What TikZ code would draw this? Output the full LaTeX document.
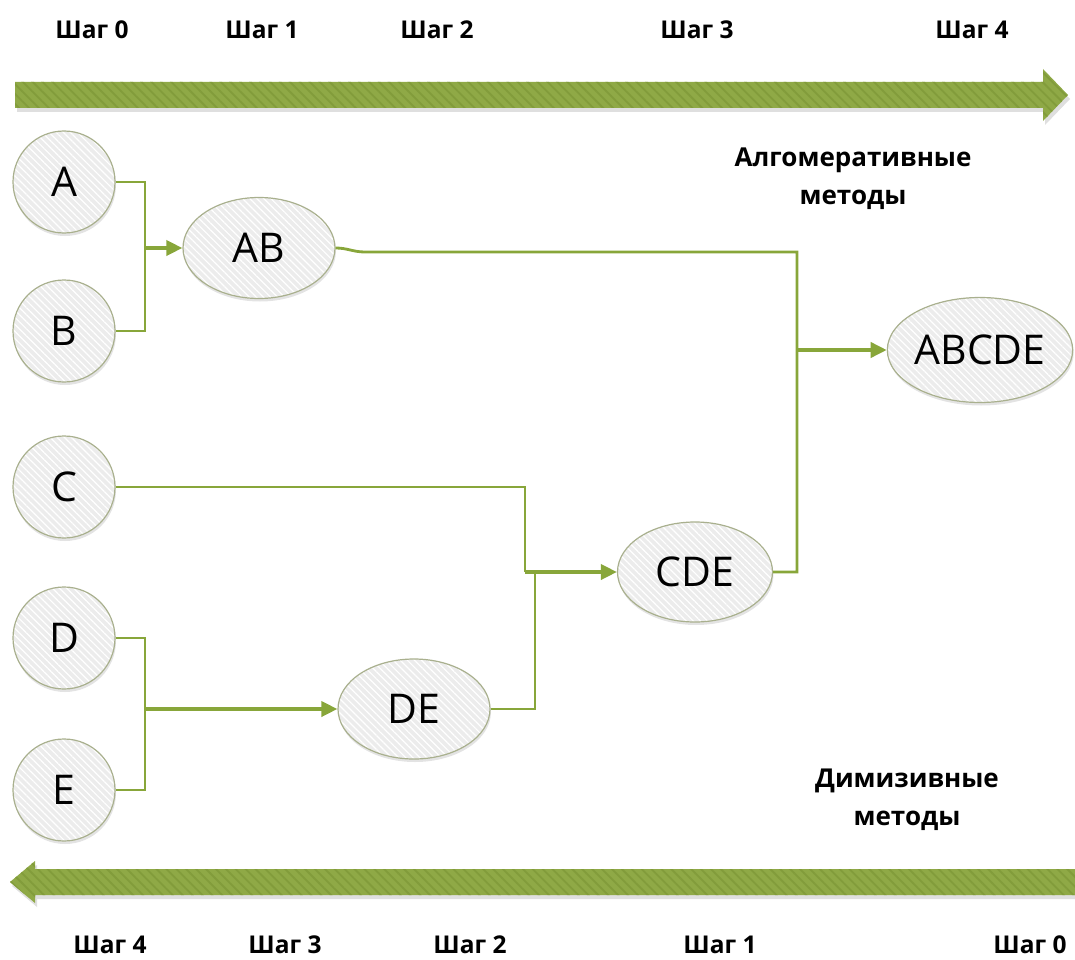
\documentclass[tikz,border=0pt]{standalone}
\usepackage{fontspec}
\setmainfont{Open Sans}
\newfontfamily\labelfont{Open Sans}
\usetikzlibrary{shapes.geometric,arrows.meta,patterns.meta,shadows}

\definecolor{bandgreen}{HTML}{8FA946}
\definecolor{bandstripe}{HTML}{829C3B}
\definecolor{linkgreen}{HTML}{88A63A}
\definecolor{nodefill}{HTML}{ECECEC}
\definecolor{nodeedge}{HTML}{A9B08E}

\tikzset{
  band/.style={preaction={fill=bandgreen, drop shadow={opacity=0.25, shadow xshift=2pt, shadow yshift=-4pt}},
               pattern={Lines[angle=-45,distance=7pt,line width=1.8pt]}, pattern color=bandstripe},
  leaf/.style={circle, minimum size=102pt, inner sep=0pt, draw=nodeedge, line width=1.2pt,
               preaction={fill=nodefill, drop shadow={opacity=0.22, shadow xshift=1pt, shadow yshift=-3pt}},
               pattern={Lines[angle=-45,distance=5pt,line width=1.2pt]}, pattern color=white,
               font=\fontsize{41}{44}\selectfont},
  cluster/.style={leaf, ellipse, minimum size=0pt},
  steplabel/.style={font=\labelfont\bfseries\fontsize{24.5}{28}\selectfont},
  methodlabel/.style={font=\labelfont\bfseries\fontsize{26}{38}\selectfont, align=center},
  link/.style={draw=linkgreen, line width=2.8pt},
  merge/.style={draw=linkgreen, line width=3.6pt, -{Triangle[length=16pt,width=15pt]}}
}

\begin{document}
\begin{tikzpicture}[x=1pt,y=-1pt]
\useasboundingbox (0,0) rectangle (1075,960);

% direction bands
\path[band] (15,82) -- (1043,82) -- (1043,69) -- (1068,95) -- (1043,121) -- (1043,108) -- (15,108) -- cycle;
\path[band] (1075,869) -- (35,869) -- (35,861) -- (10,882) -- (35,903) -- (35,895) -- (1075,895) -- cycle;

% step labels
\node[steplabel] (t0) at (92,30) {Шаг 0};
\node[steplabel] (t1) at (262,30) {Шаг 1};
\node[steplabel] (t2) at (437,30) {Шаг 2};
\node[steplabel] (t3) at (697,30) {Шаг 3};
\node[steplabel] (t4) at (972,30) {Шаг 4};

\node[steplabel] (b4) at (110,945) {Шаг 4};
\node[steplabel] (b3) at (285,945) {Шаг 3};
\node[steplabel] (b2) at (470,945) {Шаг 2};
\node[steplabel] (b1) at (720,945) {Шаг 1};
\node[steplabel] (b0) at (1030,945) {Шаг 0};

\node[methodlabel] (agg) at (853,179) {Алгомеративные\\методы};
\node[methodlabel] (div) at (907,800) {Димизивные\\методы};

% objects
\node[leaf] (A) at (64,182) {A};
\node[leaf] (B) at (64,331) {B};
\node[leaf] (C) at (64,487) {C};
\node[leaf] (D) at (64,638) {D};
\node[leaf] (E) at (64,790) {E};

% clusters
\node[cluster, minimum width=152pt, minimum height=101pt] (AB) at (259,248) {AB};
\node[cluster, minimum width=152pt, minimum height=100pt] (DE) at (414,709) {DE};
\node[cluster, minimum width=155pt, minimum height=100pt] (CDE) at (695,572) {CDE};
\node[cluster, minimum width=180pt, minimum height=105pt] (ABCDE) at (980,350) {ABCDE};

% junction points
\coordinate (jab) at (145,248);
\coordinate (jde) at (145,709);
\coordinate (jc) at (525,572);
\coordinate (jd) at (535,572);
\coordinate (jr) at (797,350);
\coordinate (kab) at (365,252);

% links
\draw[link] (A.east) -- (A.east -| jab) -- (B.east -| jab) -- (B.east);
\draw[merge] (jab) -- (AB.west);

\draw[link] (D.east) -- (D.east -| jde) -- (E.east -| jde) -- (E.east);
\draw[merge] (jde) -- (DE.west);

\draw[link] (C.east) -| (jc);
\draw[link] (DE.east) -| (jd);
\draw[merge] (jc) -- (CDE.west);

\draw[link] (AB.east) .. controls +(12,0) and +(-12,0) .. (kab) -- (kab -| jr) |- (CDE.east);
\draw[merge] (jr) -- (ABCDE.west);
\end{tikzpicture}
\end{document}
